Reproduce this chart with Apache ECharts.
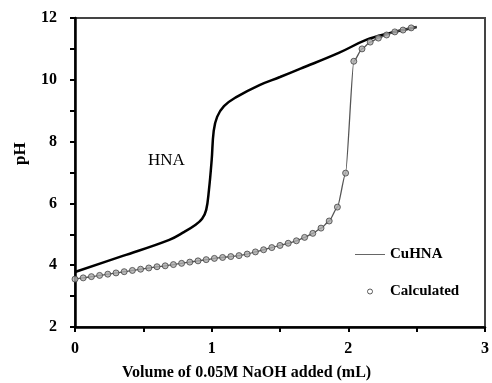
<!DOCTYPE html>
<html>
<head>
<meta charset="utf-8">
<script src="https://cdn.jsdelivr.net/npm/echarts@6/dist/echarts.min.js"></script>
<style>
  html, body { margin: 0; padding: 0; background: #fff; }
  #main { width: 492px; height: 383px; }
</style>
</head>
<body>
<div id="main"></div>
<script>
// HNA titration curve (solid black)
const hnaVolume = [0, 0.35, 0.69, 0.8, 0.88, 0.93, 0.96, 0.98, 1.0, 1.015, 1.04, 1.09, 1.18, 1.35, 1.5, 1.65, 1.93, 2.13, 2.3, 2.5];
const hnaPH = [3.78, 4.3, 4.82, 5.08, 5.3, 5.5, 5.79, 6.43, 7.4, 8.35, 8.8, 9.15, 9.44, 9.83, 10.09, 10.36, 10.87, 11.29, 11.51, 11.71];

// Calculated points (circles)
const calcVolume = [0, 0.06, 0.12, 0.18, 0.24, 0.3, 0.36, 0.42, 0.48, 0.54, 0.6, 0.66, 0.72, 0.78, 0.84, 0.9, 0.96,
  1.02, 1.08, 1.14, 1.2, 1.26, 1.32, 1.38, 1.44, 1.5, 1.56, 1.62, 1.68, 1.74, 1.8, 1.86, 1.92, 1.98,
  2.04, 2.1, 2.16, 2.22, 2.28, 2.34, 2.4, 2.46];
const calcPH = [3.55, 3.59, 3.63, 3.67, 3.71, 3.75, 3.79, 3.83, 3.87, 3.91, 3.95, 3.98, 4.02, 4.06, 4.1, 4.14, 4.18,
  4.22, 4.25, 4.28, 4.31, 4.36, 4.43, 4.5, 4.57, 4.64, 4.71, 4.79, 4.9, 5.03, 5.2, 5.43, 5.88, 6.98,
  10.6, 11.0, 11.22, 11.35, 11.45, 11.55, 11.61, 11.68];

// CuHNA experimental curve (thin gray line)
const cuVolume = calcVolume.concat([2.5]);
const cuPH = calcPH.concat([11.72]);

const xTicks = ['0', '1', '2', '3'];
const yTicks = ['2', '4', '6', '8', '10', '12'];

const zip = (a, b) => a.map((v, i) => [v, b[i]]);

const chart = echarts.init(document.getElementById('main'));
const serif = '"Liberation Serif", "Times New Roman", serif';

const option = {
  animation: false,
  backgroundColor: '#fff',
  textStyle: { fontFamily: serif },
  grid: {
    left: 75, right: 7, top: 18, bottom: 56,
    show: true, borderColor: '#444', borderWidth: 2
  },
  xAxis: {
    type: 'value', min: 0, max: 3, interval: 0.5,
    axisLine: { lineStyle: { color: '#000', width: 2.5 } },
    axisTick: { length: 5, lineStyle: { color: '#000', width: 2 } },
    splitLine: { show: false },
    axisLabel: {
      margin: 14, color: '#000', fontWeight: 'bold', fontSize: 16, fontFamily: serif,
      formatter: v => xTicks.includes(String(v)) ? String(v) : ''
    }
  },
  yAxis: {
    type: 'value', min: 2, max: 12, interval: 1,
    axisLine: { lineStyle: { color: '#000', width: 2.5 } },
    axisTick: { length: 5, lineStyle: { color: '#000', width: 2 } },
    splitLine: { show: false },
    axisLabel: {
      margin: 18, color: '#000', fontWeight: 'bold', fontSize: 16, fontFamily: serif,
      formatter: v => yTicks.includes(String(v)) ? String(v) : ''
    }
  },
  legend: {
    orient: 'vertical', left: 350, top: 242, itemGap: 22,
    itemWidth: 30, itemHeight: 5,
    textStyle: { fontFamily: serif, fontWeight: 'bold', fontSize: 15, color: '#000' },
    data: [
      { name: 'CuHNA', icon: 'path://M0,0L30,0L30,1L0,1Z', itemStyle: { color: '#666' } },
      { name: 'Calculated', icon: 'circle', itemStyle: { color: '#fff', borderColor: '#333', borderWidth: 1 } }
    ]
  },
  graphic: [
    { type: 'text', left: 148, top: 152, style: { text: 'HNA', font: '17px ' + serif, fill: '#000' } },
    { type: 'text', x: 12, y: 165, rotation: Math.PI / 2, style: { text: 'pH', font: 'bold 17px ' + serif, fill: '#000' } },
    { type: 'text', left: 122, top: 365, style: { text: 'Volume of 0.05M NaOH added (mL)', font: 'bold 16px ' + serif, fill: '#000' } }
  ],
  series: [
    {
      name: 'HNA', type: 'line', data: zip(hnaVolume, hnaPH),
      showSymbol: false, symbol: 'none', smooth: 0.4,
      lineStyle: { color: '#000', width: 2.5 }, z: 3
    },
    {
      name: 'CuHNA', type: 'line', data: zip(cuVolume, cuPH),
      symbol: 'none', smooth: 0.2, smoothMonotone: 'x',
      lineStyle: { color: '#555', width: 1.3 }, z: 4
    },
    {
      name: 'Calculated', type: 'scatter', data: zip(calcVolume, calcPH),
      symbol: 'circle', symbolSize: 6,
      itemStyle: { color: '#aaa', borderColor: '#444', borderWidth: 1 }, z: 5
    }
  ]
};
chart.setOption(option);
</script>
</body>
</html>
